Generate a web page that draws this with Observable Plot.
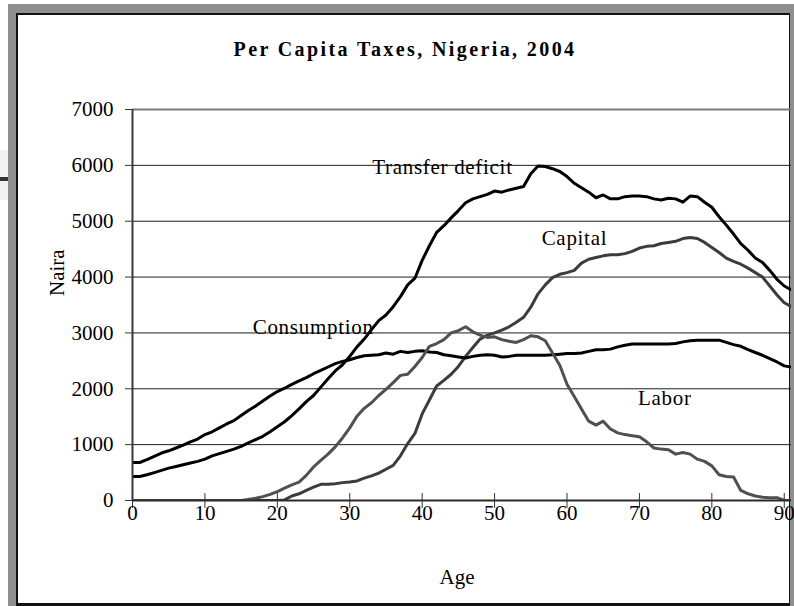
<!DOCTYPE html>
<html>
<head>
<meta charset="utf-8">
<script src="https://cdn.jsdelivr.net/npm/d3@7"></script>
<script src="https://cdn.jsdelivr.net/npm/@observablehq/plot@0.6"></script>
<style>
  html, body { margin: 0; padding: 0; background: #ffffff; }
  #page { position: relative; width: 794px; height: 606px; overflow: hidden; background: #ffffff; }
  .abs { position: absolute; }
  #chart svg { position: absolute; left: 0; top: 0; }
</style>
</head>
<body>
<div id="page">
  <div class="abs" style="left:0;top:150px;width:8px;height:50px;background:#f3f3f3;"></div>
  <div class="abs" style="left:0;top:177px;width:8px;height:4px;background:#333333;"></div>
  <div class="abs" style="left:8px;top:4px;right:0;bottom:0;background:#8f8f8f;"></div>
  <div class="abs" style="left:16px;top:13px;width:774px;height:593px;background:#111111;"></div>
  <div class="abs" style="left:18px;top:15px;width:771px;height:588px;background:#ffffff;"></div>
  <div id="chart" class="abs" style="left:0;top:0;width:794px;height:606px;"></div>
</div>
<script>
// ---- data ----
const title = "Per Capita Taxes, Nigeria, 2004";
const xLabel = "Age";
const yLabel = "Naira";
const xTicks = [0, 10, 20, 30, 40, 50, 60, 70, 80, 90];
const yTicks = [0, 1000, 2000, 3000, 4000, 5000, 6000, 7000];
const ages = d3.range(0, 92);

const consumption = [680, 680, 730, 790, 850, 890, 940, 990, 1050, 1100,
  1180, 1230, 1300, 1370, 1430, 1520, 1610, 1690, 1780, 1870,
  1950, 2010, 2080, 2140, 2200, 2270, 2330, 2390, 2450, 2490,
  2520, 2560, 2590, 2600, 2610, 2640, 2620, 2670, 2650, 2670,
  2680, 2660, 2650, 2610, 2590, 2570, 2550, 2580, 2600, 2610,
  2600, 2570, 2580, 2600, 2600, 2600, 2600, 2600, 2610, 2620,
  2630, 2630, 2640, 2670, 2700, 2700, 2710, 2750, 2780, 2800,
  2800, 2800, 2800, 2800, 2800, 2810, 2840, 2860, 2870, 2870,
  2870, 2870, 2830, 2790, 2760, 2700, 2650, 2600, 2540, 2480,
  2410, 2390];

const transferDeficit = [430, 430, 460, 500, 540, 580, 610, 640, 670, 700,
  740, 800, 840, 880, 920, 970, 1030, 1090, 1150, 1230,
  1320, 1410, 1520, 1640, 1770, 1880, 2030, 2180, 2320, 2430,
  2580, 2750, 2890, 3060, 3220, 3320, 3470, 3650, 3860, 3980,
  4300, 4560, 4800, 4920, 5060, 5190, 5330, 5400, 5440, 5480,
  5540, 5520, 5560, 5590, 5620, 5850, 5990, 5980, 5940, 5890,
  5800, 5680, 5600, 5520, 5420, 5470, 5400, 5400, 5440, 5450,
  5450, 5440, 5400, 5380, 5410, 5400, 5340, 5450, 5440, 5340,
  5250, 5080, 4930, 4770, 4600, 4480, 4340, 4260, 4120, 3960,
  3840, 3770];

const capital = [0, 0, 0, 0, 0, 0, 0, 0, 0, 0,
  0, 0, 0, 0, 0, 0, 0, 0, 0, 0,
  0, 10, 80, 120, 180, 240, 290, 290, 300, 320,
  330, 350, 400, 440, 490, 560, 630, 800, 1020, 1200,
  1550, 1800, 2050, 2150, 2260, 2400, 2580, 2740, 2890, 2960,
  3000, 3050, 3110, 3190, 3280, 3460, 3700, 3860, 3990, 4050,
  4080, 4120, 4250, 4320, 4350, 4380, 4400, 4400, 4420, 4460,
  4520, 4550, 4560, 4600, 4620, 4640, 4690, 4710, 4690, 4620,
  4530, 4440, 4340, 4280, 4230, 4160, 4080, 4000, 3840, 3680,
  3540, 3470];

const labor = [0, 0, 0, 0, 0, 0, 0, 0, 0, 0,
  0, 0, 0, 0, 0, 0, 20, 40, 70, 110,
  160, 220, 280, 330, 450, 600, 720, 830, 960, 1120,
  1300, 1510, 1650, 1750, 1880, 1990, 2110, 2240, 2260, 2400,
  2560, 2760, 2810, 2880, 3000, 3040, 3110, 3020, 2960, 2920,
  2930, 2880, 2850, 2830, 2880, 2950, 2930, 2860, 2640, 2420,
  2080, 1860, 1640, 1420, 1350, 1420, 1280, 1210, 1180, 1160,
  1140, 1050, 940, 920, 910, 830, 860, 830, 740, 700,
  620, 460, 430, 420, 180, 120, 80, 60, 50, 50,
  0, 0];

const seriesNames = ["Transfer deficit", "Capital", "Consumption", "Labor"];
const seriesValues = [transferDeficit, capital, consumption, labor];
const seriesColors = ["#000000", "#3c3c3c", "#000000", "#505050"];
// label anchor points (age, naira) where the series names sit
const labelAges = [33.1, 56.5, 16.6, 69.8];
const labelValues = [5960, 4690, 3100, 1830];

// ---- build tables ----
const rows = [];
seriesNames.forEach((name, s) => {
  ages.forEach((a, i) => rows.push({series: name, age: a, value: seriesValues[s][i]}));
});
const labels = seriesNames.map((name, s) => ({series: name, age: labelAges[s], value: labelValues[s]}));

const serif = "'Liberation Serif', 'Times New Roman', serif";
const innerGrid = yTicks.filter(v => v > 0 && v < 7000);
const topGrid = yTicks.filter(v => v === 7000);

const chart = Plot.plot({
  width: 794,
  height: 606,
  marginLeft: 132,
  marginRight: 3,
  marginTop: 109,
  marginBottom: 106,
  style: {background: "transparent", fontFamily: serif, fontSize: "21px", color: "#000", overflow: "visible"},
  x: {domain: [0, 91]},
  y: {domain: [0, 7000]},
  color: {domain: seriesNames, range: seriesColors},
  marks: [
    Plot.ruleY(innerGrid, {y: d => d, stroke: "#1e1e1e", strokeWidth: 1}),
    Plot.ruleY(topGrid, {y: d => d, stroke: "#7a7a7a", strokeWidth: 2}),
    Plot.lineY(rows, {x: "age", y: "value", z: "series", stroke: "series", strokeWidth: 3, strokeLinejoin: "round", clip: true}),
    Plot.ruleX([0], {stroke: "#3a3a3a", strokeWidth: 2}),
    Plot.ruleY([0], {stroke: "#2a2a2a", strokeWidth: 2}),
    Plot.axisY({ticks: yTicks, tickSize: 7, tickPadding: 12, label: null, fontSize: 21, stroke: "#333", tickFormat: d => String(d)}),
    Plot.axisX({ticks: xTicks, tickSize: 8, text: null, label: null, stroke: "#333"}),
    Plot.axisX({ticks: xTicks, tickSize: -7, text: null, label: null, stroke: "#333"}),
    Plot.axisX({ticks: xTicks, tickSize: 0, tickPadding: 5, label: null, fontSize: 21, tickFormat: d => String(d)}),
    Plot.text(labels, {x: "age", y: "value", text: "series", textAnchor: "start", fontSize: 21, fill: "#000"}),
    Plot.text([title], {frameAnchor: "top", dx: -57, dy: -68, fontSize: 20, fontWeight: "bold", fill: "#000"}),
    Plot.text([xLabel], {frameAnchor: "bottom", dx: -5, dy: 83, fontSize: 21, fill: "#000"}),
    Plot.text([yLabel], {frameAnchor: "left", dx: -75, dy: -9, rotate: -90, fontSize: 21, fill: "#000"})
  ]
});
d3.select(chart).selectAll("text").each(function () {
  const t = this.textContent;
  if (t === title) this.setAttribute("letter-spacing", "2.4");
  else if (seriesNames.includes(t)) this.setAttribute("letter-spacing", "0.7");
});
document.getElementById("chart").appendChild(chart);
</script>
</body>
</html>
